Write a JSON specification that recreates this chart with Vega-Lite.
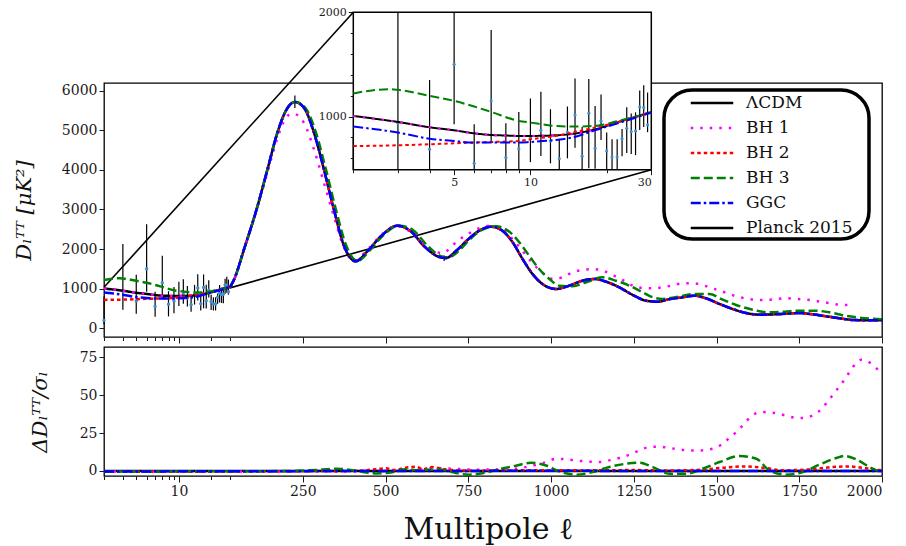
{
  "$schema": "https://vega.github.io/schema/vega-lite/v6.json",
  "background": "white",
  "padding": {"left": 12, "top": 5, "right": 10, "bottom": 8},
  "bounds": "flush",
  "spacing": 10,
  "config": {
    "font": "DejaVu Serif",
    "view": {"stroke": "#000000", "strokeWidth": 1.3},
    "axis": {"domain": false, "grid": false, "labelFont": "DejaVu Serif", "labelFontSize": 14, "labelColor": "#1a1a1a", "tickColor": "#1a1a1a", "titleFont": "DejaVu Serif", "titleFontWeight": "normal", "titleColor": "#111111"},
    "legend": {"strokeWidth": 3.5}
  },
  "datasets": {
    "curves": [
      {"model": "ΛCDM", "l": 2, "D": 1006}, {"model": "ΛCDM", "l": 2.4, "D": 981}, {"model": "ΛCDM", "l": 3, "D": 948}, {"model": "ΛCDM", "l": 4, "D": 897}, {"model": "ΛCDM", "l": 5, "D": 868}, {"model": "ΛCDM", "l": 6, "D": 839}, {"model": "ΛCDM", "l": 7, "D": 823}, {"model": "ΛCDM", "l": 8, "D": 818}, {"model": "ΛCDM", "l": 9, "D": 814}, {"model": "ΛCDM", "l": 10, "D": 814}, {"model": "ΛCDM", "l": 12.6, "D": 820}, {"model": "ΛCDM", "l": 14.6, "D": 833}, {"model": "ΛCDM", "l": 18, "D": 878}, {"model": "ΛCDM", "l": 23, "D": 958}, {"model": "ΛCDM", "l": 30, "D": 1044},
      {"model": "ΛCDM", "l": 42, "D": 1227}, {"model": "ΛCDM", "l": 72, "D": 1985}, {"model": "ΛCDM", "l": 113, "D": 3080}, {"model": "ΛCDM", "l": 143, "D": 4005}, {"model": "ΛCDM", "l": 173, "D": 4932}, {"model": "ΛCDM", "l": 198, "D": 5480}, {"model": "ΛCDM", "l": 226, "D": 5715}, {"model": "ΛCDM", "l": 254, "D": 5563}, {"model": "ΛCDM", "l": 284, "D": 4932}, {"model": "ΛCDM", "l": 314, "D": 4005}, {"model": "ΛCDM", "l": 344, "D": 2995}, {"model": "ΛCDM", "l": 375, "D": 2070}, {"model": "ΛCDM", "l": 410, "D": 1692}, {"model": "ΛCDM", "l": 445, "D": 1944}, {"model": "ΛCDM", "l": 486, "D": 2323}, {"model": "ΛCDM", "l": 536, "D": 2591}, {"model": "ΛCDM", "l": 576, "D": 2449}, {"model": "ΛCDM", "l": 617, "D": 2070}, {"model": "ΛCDM", "l": 657, "D": 1818}, {"model": "ΛCDM", "l": 682, "D": 1775}, {"model": "ΛCDM", "l": 717, "D": 1985}, {"model": "ΛCDM", "l": 750, "D": 2250}, {"model": "ΛCDM", "l": 783, "D": 2465}, {"model": "ΛCDM", "l": 818, "D": 2566}, {"model": "ΛCDM", "l": 853, "D": 2465}, {"model": "ΛCDM", "l": 884, "D": 2172}, {"model": "ΛCDM", "l": 914, "D": 1750}, {"model": "ΛCDM", "l": 944, "D": 1371}, {"model": "ΛCDM", "l": 974, "D": 1119}, {"model": "ΛCDM", "l": 1015, "D": 992}, {"model": "ΛCDM", "l": 1055, "D": 1076}, {"model": "ΛCDM", "l": 1095, "D": 1202}, {"model": "ΛCDM", "l": 1131, "D": 1245}, {"model": "ΛCDM", "l": 1166, "D": 1177}, {"model": "ΛCDM", "l": 1206, "D": 1035}, {"model": "ΛCDM", "l": 1247, "D": 841}, {"model": "ΛCDM", "l": 1287, "D": 697}, {"model": "ΛCDM", "l": 1322, "D": 672}, {"model": "ΛCDM", "l": 1357, "D": 735}, {"model": "ΛCDM", "l": 1398, "D": 783}, {"model": "ΛCDM", "l": 1433, "D": 824}, {"model": "ΛCDM", "l": 1468, "D": 757}, {"model": "ΛCDM", "l": 1509, "D": 614}, {"model": "ΛCDM", "l": 1549, "D": 487}, {"model": "ΛCDM", "l": 1589, "D": 386}, {"model": "ΛCDM", "l": 1630, "D": 344}, {"model": "ΛCDM", "l": 1670, "D": 352}, {"model": "ΛCDM", "l": 1710, "D": 369}, {"model": "ΛCDM", "l": 1750, "D": 386}, {"model": "ΛCDM", "l": 1791, "D": 352}, {"model": "ΛCDM", "l": 1831, "D": 303}, {"model": "ΛCDM", "l": 1872, "D": 252}, {"model": "ΛCDM", "l": 1912, "D": 210}, {"model": "ΛCDM", "l": 1963, "D": 202}, {"model": "ΛCDM", "l": 2000, "D": 200},

      {"model": "BH 1", "l": 2, "D": 1006}, {"model": "BH 1", "l": 2.4, "D": 981}, {"model": "BH 1", "l": 3, "D": 948}, {"model": "BH 1", "l": 4, "D": 897}, {"model": "BH 1", "l": 5, "D": 868}, {"model": "BH 1", "l": 6, "D": 839}, {"model": "BH 1", "l": 7, "D": 823}, {"model": "BH 1", "l": 8, "D": 818}, {"model": "BH 1", "l": 9, "D": 814}, {"model": "BH 1", "l": 10, "D": 814}, {"model": "BH 1", "l": 12.6, "D": 820}, {"model": "BH 1", "l": 14.6, "D": 833}, {"model": "BH 1", "l": 18, "D": 878}, {"model": "BH 1", "l": 23, "D": 958}, {"model": "BH 1", "l": 30, "D": 1044},
      {"model": "BH 1", "l": 42, "D": 1227}, {"model": "BH 1", "l": 72, "D": 1985}, {"model": "BH 1", "l": 113, "D": 3060}, {"model": "BH 1", "l": 143, "D": 3930}, {"model": "BH 1", "l": 173, "D": 4800}, {"model": "BH 1", "l": 198, "D": 5300}, {"model": "BH 1", "l": 215, "D": 5420}, {"model": "BH 1", "l": 235, "D": 5380}, {"model": "BH 1", "l": 254, "D": 5177}, {"model": "BH 1", "l": 284, "D": 4510}, {"model": "BH 1", "l": 314, "D": 3669}, {"model": "BH 1", "l": 344, "D": 2828}, {"model": "BH 1", "l": 375, "D": 2028}, {"model": "BH 1", "l": 405, "D": 1700}, {"model": "BH 1", "l": 450, "D": 2028}, {"model": "BH 1", "l": 490, "D": 2380}, {"model": "BH 1", "l": 530, "D": 2580}, {"model": "BH 1", "l": 560, "D": 2520}, {"model": "BH 1", "l": 600, "D": 2250}, {"model": "BH 1", "l": 640, "D": 1980}, {"model": "BH 1", "l": 670, "D": 1900}, {"model": "BH 1", "l": 722, "D": 2237}, {"model": "BH 1", "l": 758, "D": 2424}, {"model": "BH 1", "l": 783, "D": 2528}, {"model": "BH 1", "l": 818, "D": 2590}, {"model": "BH 1", "l": 853, "D": 2500}, {"model": "BH 1", "l": 884, "D": 2250}, {"model": "BH 1", "l": 914, "D": 1950}, {"model": "BH 1", "l": 944, "D": 1650}, {"model": "BH 1", "l": 974, "D": 1400}, {"model": "BH 1", "l": 1005, "D": 1245}, {"model": "BH 1", "l": 1035, "D": 1288}, {"model": "BH 1", "l": 1065, "D": 1414}, {"model": "BH 1", "l": 1095, "D": 1472}, {"model": "BH 1", "l": 1126, "D": 1497}, {"model": "BH 1", "l": 1156, "D": 1455}, {"model": "BH 1", "l": 1186, "D": 1346}, {"model": "BH 1", "l": 1216, "D": 1220}, {"model": "BH 1", "l": 1247, "D": 1076}, {"model": "BH 1", "l": 1277, "D": 1018}, {"model": "BH 1", "l": 1307, "D": 1010}, {"model": "BH 1", "l": 1337, "D": 1035}, {"model": "BH 1", "l": 1368, "D": 1085}, {"model": "BH 1", "l": 1400, "D": 1136}, {"model": "BH 1", "l": 1433, "D": 1136}, {"model": "BH 1", "l": 1463, "D": 1076}, {"model": "BH 1", "l": 1494, "D": 992}, {"model": "BH 1", "l": 1524, "D": 909}, {"model": "BH 1", "l": 1554, "D": 823}, {"model": "BH 1", "l": 1584, "D": 758}, {"model": "BH 1", "l": 1614, "D": 722}, {"model": "BH 1", "l": 1650, "D": 715}, {"model": "BH 1", "l": 1680, "D": 740}, {"model": "BH 1", "l": 1712, "D": 758}, {"model": "BH 1", "l": 1745, "D": 740}, {"model": "BH 1", "l": 1776, "D": 722}, {"model": "BH 1", "l": 1806, "D": 682}, {"model": "BH 1", "l": 1839, "D": 639}, {"model": "BH 1", "l": 1872, "D": 596}, {"model": "BH 1", "l": 1902, "D": 588},

      {"model": "BH 2", "l": 2, "D": 717}, {"model": "BH 2", "l": 3, "D": 724}, {"model": "BH 2", "l": 4, "D": 734}, {"model": "BH 2", "l": 5, "D": 743}, {"model": "BH 2", "l": 6, "D": 750}, {"model": "BH 2", "l": 7, "D": 756}, {"model": "BH 2", "l": 9, "D": 765}, {"model": "BH 2", "l": 10, "D": 782}, {"model": "BH 2", "l": 12.6, "D": 814}, {"model": "BH 2", "l": 14.6, "D": 846}, {"model": "BH 2", "l": 18, "D": 894}, {"model": "BH 2", "l": 23, "D": 958}, {"model": "BH 2", "l": 30, "D": 1038},
      {"model": "BH 2", "l": 42, "D": 1227}, {"model": "BH 2", "l": 72, "D": 1985}, {"model": "BH 2", "l": 113, "D": 3080}, {"model": "BH 2", "l": 143, "D": 4005}, {"model": "BH 2", "l": 173, "D": 4932}, {"model": "BH 2", "l": 198, "D": 5480}, {"model": "BH 2", "l": 226, "D": 5715}, {"model": "BH 2", "l": 254, "D": 5563}, {"model": "BH 2", "l": 284, "D": 4932}, {"model": "BH 2", "l": 314, "D": 4005}, {"model": "BH 2", "l": 344, "D": 2995}, {"model": "BH 2", "l": 375, "D": 2070}, {"model": "BH 2", "l": 410, "D": 1692}, {"model": "BH 2", "l": 445, "D": 1944}, {"model": "BH 2", "l": 486, "D": 2323}, {"model": "BH 2", "l": 536, "D": 2591}, {"model": "BH 2", "l": 576, "D": 2449}, {"model": "BH 2", "l": 617, "D": 2070}, {"model": "BH 2", "l": 657, "D": 1818}, {"model": "BH 2", "l": 682, "D": 1775}, {"model": "BH 2", "l": 717, "D": 1985}, {"model": "BH 2", "l": 750, "D": 2250}, {"model": "BH 2", "l": 783, "D": 2465}, {"model": "BH 2", "l": 818, "D": 2566}, {"model": "BH 2", "l": 853, "D": 2465}, {"model": "BH 2", "l": 884, "D": 2172}, {"model": "BH 2", "l": 914, "D": 1750}, {"model": "BH 2", "l": 944, "D": 1371}, {"model": "BH 2", "l": 974, "D": 1119}, {"model": "BH 2", "l": 1015, "D": 992}, {"model": "BH 2", "l": 1055, "D": 1076}, {"model": "BH 2", "l": 1095, "D": 1202}, {"model": "BH 2", "l": 1131, "D": 1245}, {"model": "BH 2", "l": 1166, "D": 1177}, {"model": "BH 2", "l": 1206, "D": 1035}, {"model": "BH 2", "l": 1247, "D": 841}, {"model": "BH 2", "l": 1287, "D": 697}, {"model": "BH 2", "l": 1322, "D": 672}, {"model": "BH 2", "l": 1357, "D": 735}, {"model": "BH 2", "l": 1398, "D": 783}, {"model": "BH 2", "l": 1433, "D": 824}, {"model": "BH 2", "l": 1468, "D": 757}, {"model": "BH 2", "l": 1509, "D": 614}, {"model": "BH 2", "l": 1549, "D": 487}, {"model": "BH 2", "l": 1589, "D": 386}, {"model": "BH 2", "l": 1630, "D": 344}, {"model": "BH 2", "l": 1670, "D": 352}, {"model": "BH 2", "l": 1710, "D": 369}, {"model": "BH 2", "l": 1750, "D": 386}, {"model": "BH 2", "l": 1791, "D": 352}, {"model": "BH 2", "l": 1831, "D": 303}, {"model": "BH 2", "l": 1872, "D": 252}, {"model": "BH 2", "l": 1912, "D": 210}, {"model": "BH 2", "l": 1963, "D": 202}, {"model": "BH 2", "l": 2000, "D": 200},

      {"model": "BH 3", "l": 2, "D": 1221}, {"model": "BH 3", "l": 2.4, "D": 1253}, {"model": "BH 3", "l": 2.8, "D": 1262}, {"model": "BH 3", "l": 3, "D": 1256}, {"model": "BH 3", "l": 4, "D": 1198}, {"model": "BH 3", "l": 5, "D": 1150}, {"model": "BH 3", "l": 6, "D": 1096}, {"model": "BH 3", "l": 7, "D": 1044}, {"model": "BH 3", "l": 9, "D": 958}, {"model": "BH 3", "l": 10, "D": 942}, {"model": "BH 3", "l": 12.6, "D": 910}, {"model": "BH 3", "l": 14.6, "D": 904}, {"model": "BH 3", "l": 18, "D": 910}, {"model": "BH 3", "l": 23, "D": 968}, {"model": "BH 3", "l": 30, "D": 1038},
      {"model": "BH 3", "l": 42, "D": 1227}, {"model": "BH 3", "l": 72, "D": 1985}, {"model": "BH 3", "l": 113, "D": 3080}, {"model": "BH 3", "l": 143, "D": 4005}, {"model": "BH 3", "l": 173, "D": 4932}, {"model": "BH 3", "l": 198, "D": 5480}, {"model": "BH 3", "l": 228, "D": 5715}, {"model": "BH 3", "l": 258, "D": 5563}, {"model": "BH 3", "l": 290, "D": 4932}, {"model": "BH 3", "l": 320, "D": 4005}, {"model": "BH 3", "l": 350, "D": 2995}, {"model": "BH 3", "l": 382, "D": 2070}, {"model": "BH 3", "l": 415, "D": 1700}, {"model": "BH 3", "l": 450, "D": 1944}, {"model": "BH 3", "l": 490, "D": 2323}, {"model": "BH 3", "l": 540, "D": 2591}, {"model": "BH 3", "l": 580, "D": 2500}, {"model": "BH 3", "l": 625, "D": 2100}, {"model": "BH 3", "l": 665, "D": 1830}, {"model": "BH 3", "l": 690, "D": 1790}, {"model": "BH 3", "l": 725, "D": 1985}, {"model": "BH 3", "l": 755, "D": 2250}, {"model": "BH 3", "l": 790, "D": 2480}, {"model": "BH 3", "l": 833, "D": 2576}, {"model": "BH 3", "l": 874, "D": 2439}, {"model": "BH 3", "l": 904, "D": 2172}, {"model": "BH 3", "l": 934, "D": 1833}, {"model": "BH 3", "l": 964, "D": 1497}, {"model": "BH 3", "l": 995, "D": 1245}, {"model": "BH 3", "l": 1025, "D": 1076}, {"model": "BH 3", "l": 1065, "D": 1061}, {"model": "BH 3", "l": 1106, "D": 1162}, {"model": "BH 3", "l": 1156, "D": 1288}, {"model": "BH 3", "l": 1196, "D": 1202}, {"model": "BH 3", "l": 1237, "D": 1076}, {"model": "BH 3", "l": 1277, "D": 909}, {"model": "BH 3", "l": 1307, "D": 783}, {"model": "BH 3", "l": 1337, "D": 740}, {"model": "BH 3", "l": 1380, "D": 790}, {"model": "BH 3", "l": 1433, "D": 866}, {"model": "BH 3", "l": 1478, "D": 866}, {"model": "BH 3", "l": 1519, "D": 722}, {"model": "BH 3", "l": 1559, "D": 588}, {"model": "BH 3", "l": 1609, "D": 470}, {"model": "BH 3", "l": 1655, "D": 404}, {"model": "BH 3", "l": 1705, "D": 420}, {"model": "BH 3", "l": 1750, "D": 445}, {"model": "BH 3", "l": 1796, "D": 445}, {"model": "BH 3", "l": 1841, "D": 404}, {"model": "BH 3", "l": 1887, "D": 318}, {"model": "BH 3", "l": 1932, "D": 268}, {"model": "BH 3", "l": 1983, "D": 235}, {"model": "BH 3", "l": 2000, "D": 230},

      {"model": "GGC", "l": 2, "D": 904}, {"model": "GGC", "l": 3, "D": 846}, {"model": "GGC", "l": 4, "D": 788}, {"model": "GGC", "l": 5, "D": 765}, {"model": "GGC", "l": 6, "D": 750}, {"model": "GGC", "l": 7, "D": 750}, {"model": "GGC", "l": 9, "D": 750}, {"model": "GGC", "l": 10, "D": 756}, {"model": "GGC", "l": 12.6, "D": 775}, {"model": "GGC", "l": 14.6, "D": 798}, {"model": "GGC", "l": 18, "D": 868}, {"model": "GGC", "l": 23, "D": 948}, {"model": "GGC", "l": 30, "D": 1038},
      {"model": "GGC", "l": 42, "D": 1227}, {"model": "GGC", "l": 72, "D": 1985}, {"model": "GGC", "l": 113, "D": 3080}, {"model": "GGC", "l": 143, "D": 4005}, {"model": "GGC", "l": 173, "D": 4932}, {"model": "GGC", "l": 198, "D": 5480}, {"model": "GGC", "l": 226, "D": 5715}, {"model": "GGC", "l": 254, "D": 5563}, {"model": "GGC", "l": 284, "D": 4932}, {"model": "GGC", "l": 314, "D": 4005}, {"model": "GGC", "l": 344, "D": 2995}, {"model": "GGC", "l": 375, "D": 2070}, {"model": "GGC", "l": 410, "D": 1692}, {"model": "GGC", "l": 445, "D": 1944}, {"model": "GGC", "l": 486, "D": 2323}, {"model": "GGC", "l": 536, "D": 2591}, {"model": "GGC", "l": 576, "D": 2449}, {"model": "GGC", "l": 617, "D": 2070}, {"model": "GGC", "l": 657, "D": 1818}, {"model": "GGC", "l": 682, "D": 1775}, {"model": "GGC", "l": 717, "D": 1985}, {"model": "GGC", "l": 750, "D": 2250}, {"model": "GGC", "l": 783, "D": 2465}, {"model": "GGC", "l": 818, "D": 2566}, {"model": "GGC", "l": 853, "D": 2465}, {"model": "GGC", "l": 884, "D": 2172}, {"model": "GGC", "l": 914, "D": 1750}, {"model": "GGC", "l": 944, "D": 1371}, {"model": "GGC", "l": 974, "D": 1119}, {"model": "GGC", "l": 1015, "D": 992}, {"model": "GGC", "l": 1055, "D": 1076}, {"model": "GGC", "l": 1095, "D": 1202}, {"model": "GGC", "l": 1131, "D": 1245}, {"model": "GGC", "l": 1166, "D": 1177}, {"model": "GGC", "l": 1206, "D": 1035}, {"model": "GGC", "l": 1247, "D": 841}, {"model": "GGC", "l": 1287, "D": 697}, {"model": "GGC", "l": 1322, "D": 672}, {"model": "GGC", "l": 1357, "D": 735}, {"model": "GGC", "l": 1398, "D": 783}, {"model": "GGC", "l": 1433, "D": 824}, {"model": "GGC", "l": 1468, "D": 757}, {"model": "GGC", "l": 1509, "D": 614}, {"model": "GGC", "l": 1549, "D": 487}, {"model": "GGC", "l": 1589, "D": 386}, {"model": "GGC", "l": 1630, "D": 344}, {"model": "GGC", "l": 1670, "D": 352}, {"model": "GGC", "l": 1710, "D": 369}, {"model": "GGC", "l": 1750, "D": 386}, {"model": "GGC", "l": 1791, "D": 352}, {"model": "GGC", "l": 1831, "D": 303}, {"model": "GGC", "l": 1872, "D": 252}, {"model": "GGC", "l": 1912, "D": 210}, {"model": "GGC", "l": 1963, "D": 202}, {"model": "GGC", "l": 2000, "D": 200}
    ],
    "planck": [
      {"l": 2, "D": 200, "lo": 100, "hi": 800}, {"l": 3, "D": 936, "lo": 470, "hi": 2130}, {"l": 4, "D": 686, "lo": 370, "hi": 1350}, {"l": 5, "D": 1502, "lo": 925, "hi": 2630}, {"l": 6, "D": 551, "lo": 290, "hi": 925}, {"l": 7, "D": 1150, "lo": 765, "hi": 1830}, {"l": 8, "D": 606, "lo": 300, "hi": 936}, {"l": 9, "D": 692, "lo": 380, "hi": 1044}, {"l": 10, "D": 798, "lo": 563, "hi": 1173}, {"l": 11, "D": 868, "lo": 621, "hi": 1237}, {"l": 12, "D": 765, "lo": 551, "hi": 1070}, {"l": 13, "D": 596, "lo": 420, "hi": 775}, {"l": 14, "D": 850, "lo": 599, "hi": 1096}, {"l": 15, "D": 1015, "lo": 700, "hi": 1365}, {"l": 16, "D": 620, "lo": 450, "hi": 900}, {"l": 17, "D": 1032, "lo": 503, "hi": 1359}, {"l": 18, "D": 696, "lo": 500, "hi": 1100}, {"l": 19, "D": 958, "lo": 776, "hi": 1212}, {"l": 20, "D": 670, "lo": 460, "hi": 847}, {"l": 21, "D": 612, "lo": 450, "hi": 783}, {"l": 22, "D": 612, "lo": 450, "hi": 783}, {"l": 23, "D": 786, "lo": 620, "hi": 880}, {"l": 24, "D": 888, "lo": 650, "hi": 1090}, {"l": 25, "D": 856, "lo": 640, "hi": 1030}, {"l": 26, "D": 862, "lo": 630, "hi": 1040}, {"l": 27, "D": 1093, "lo": 870, "hi": 1250}, {"l": 28, "D": 1087, "lo": 900, "hi": 1300}, {"l": 29, "D": 920, "lo": 850, "hi": 1230},
      {"l": 226, "D": 5720, "lo": 5560, "hi": 5880}, {"l": 677, "D": 1770, "lo": 1700, "hi": 1840}
    ],
    "resid": [
      {"model": "ΛCDM", "l": 2, "R": 0}, {"model": "ΛCDM", "l": 30, "R": 0}, {"model": "ΛCDM", "l": 2000, "R": 0},
      {"model": "BH 1", "l": 2, "R": -0.4}, {"model": "BH 1", "l": 30, "R": -0.3}, {"model": "BH 1", "l": 300, "R": -0.3}, {"model": "BH 1", "l": 500, "R": -0.2}, {"model": "BH 1", "l": 600, "R": 0.8}, {"model": "BH 1", "l": 642, "R": 2}, {"model": "BH 1", "l": 702, "R": 1.5}, {"model": "BH 1", "l": 763, "R": 0.9}, {"model": "BH 1", "l": 864, "R": 1}, {"model": "BH 1", "l": 924, "R": 2.6}, {"model": "BH 1", "l": 985, "R": 5.9}, {"model": "BH 1", "l": 1015, "R": 8.1}, {"model": "BH 1", "l": 1045, "R": 7.7}, {"model": "BH 1", "l": 1080, "R": 6.8}, {"model": "BH 1", "l": 1110, "R": 6.3}, {"model": "BH 1", "l": 1146, "R": 5.9}, {"model": "BH 1", "l": 1176, "R": 7}, {"model": "BH 1", "l": 1206, "R": 8.6}, {"model": "BH 1", "l": 1237, "R": 10.8}, {"model": "BH 1", "l": 1267, "R": 13.6}, {"model": "BH 1", "l": 1297, "R": 15.8}, {"model": "BH 1", "l": 1327, "R": 16}, {"model": "BH 1", "l": 1357, "R": 15.2}, {"model": "BH 1", "l": 1388, "R": 14.2}, {"model": "BH 1", "l": 1418, "R": 13.6}, {"model": "BH 1", "l": 1453, "R": 13.6}, {"model": "BH 1", "l": 1488, "R": 14.7}, {"model": "BH 1", "l": 1514, "R": 17.3}, {"model": "BH 1", "l": 1539, "R": 21.8}, {"model": "BH 1", "l": 1562, "R": 26.1}, {"model": "BH 1", "l": 1584, "R": 31.2}, {"model": "BH 1", "l": 1606, "R": 36.3}, {"model": "BH 1", "l": 1635, "R": 38.9}, {"model": "BH 1", "l": 1668, "R": 38.5}, {"model": "BH 1", "l": 1700, "R": 37.1}, {"model": "BH 1", "l": 1730, "R": 35.4}, {"model": "BH 1", "l": 1761, "R": 35}, {"model": "BH 1", "l": 1791, "R": 36.7}, {"model": "BH 1", "l": 1816, "R": 40.6}, {"model": "BH 1", "l": 1836, "R": 45.9}, {"model": "BH 1", "l": 1856, "R": 51.6}, {"model": "BH 1", "l": 1876, "R": 57.1}, {"model": "BH 1", "l": 1894, "R": 62.7}, {"model": "BH 1", "l": 1912, "R": 68.6}, {"model": "BH 1", "l": 1937, "R": 73.4}, {"model": "BH 1", "l": 1964, "R": 71.4}, {"model": "BH 1", "l": 1990, "R": 66.4}, {"model": "BH 1", "l": 2000, "R": 64.5},
      {"model": "BH 2", "l": 2, "R": -0.5}, {"model": "BH 2", "l": 10, "R": -0.5}, {"model": "BH 2", "l": 30, "R": -0.4}, {"model": "BH 2", "l": 300, "R": 0}, {"model": "BH 2", "l": 420, "R": 0.2}, {"model": "BH 2", "l": 470, "R": 1.2}, {"model": "BH 2", "l": 500, "R": 1.8}, {"model": "BH 2", "l": 530, "R": 0.6}, {"model": "BH 2", "l": 560, "R": 2.2}, {"model": "BH 2", "l": 590, "R": 2.8}, {"model": "BH 2", "l": 615, "R": 1.2}, {"model": "BH 2", "l": 640, "R": 2.6}, {"model": "BH 2", "l": 670, "R": 1.4}, {"model": "BH 2", "l": 720, "R": 0.4}, {"model": "BH 2", "l": 800, "R": 0.1}, {"model": "BH 2", "l": 900, "R": 0.4}, {"model": "BH 2", "l": 1000, "R": 0.5}, {"model": "BH 2", "l": 1100, "R": 0.4}, {"model": "BH 2", "l": 1250, "R": 0.6}, {"model": "BH 2", "l": 1350, "R": 0.3}, {"model": "BH 2", "l": 1450, "R": 0.8}, {"model": "BH 2", "l": 1530, "R": 2.4}, {"model": "BH 2", "l": 1590, "R": 3}, {"model": "BH 2", "l": 1640, "R": 2.2}, {"model": "BH 2", "l": 1700, "R": 0.5}, {"model": "BH 2", "l": 1780, "R": 1}, {"model": "BH 2", "l": 1850, "R": 2.6}, {"model": "BH 2", "l": 1900, "R": 3}, {"model": "BH 2", "l": 1950, "R": 1.8}, {"model": "BH 2", "l": 2000, "R": 0.5},
      {"model": "BH 3", "l": 2, "R": -0.3}, {"model": "BH 3", "l": 30, "R": -0.2}, {"model": "BH 3", "l": 200, "R": 0}, {"model": "BH 3", "l": 300, "R": 0.8}, {"model": "BH 3", "l": 350, "R": 1.5}, {"model": "BH 3", "l": 410, "R": 0.2}, {"model": "BH 3", "l": 470, "R": -1.6}, {"model": "BH 3", "l": 520, "R": -0.8}, {"model": "BH 3", "l": 560, "R": 1.2}, {"model": "BH 3", "l": 600, "R": 0.5}, {"model": "BH 3", "l": 662, "R": 1}, {"model": "BH 3", "l": 712, "R": -1.3}, {"model": "BH 3", "l": 752, "R": -2.4}, {"model": "BH 3", "l": 803, "R": -1}, {"model": "BH 3", "l": 853, "R": 1.7}, {"model": "BH 3", "l": 894, "R": 3.5}, {"model": "BH 3", "l": 939, "R": 5.4}, {"model": "BH 3", "l": 985, "R": 3.6}, {"model": "BH 3", "l": 1025, "R": -0.3}, {"model": "BH 3", "l": 1075, "R": -2.4}, {"model": "BH 3", "l": 1126, "R": -0.7}, {"model": "BH 3", "l": 1176, "R": 2.6}, {"model": "BH 3", "l": 1227, "R": 4.8}, {"model": "BH 3", "l": 1267, "R": 5.5}, {"model": "BH 3", "l": 1307, "R": 2.6}, {"model": "BH 3", "l": 1357, "R": -1.8}, {"model": "BH 3", "l": 1408, "R": -1.8}, {"model": "BH 3", "l": 1458, "R": 1.5}, {"model": "BH 3", "l": 1509, "R": 5.9}, {"model": "BH 3", "l": 1570, "R": 9.9}, {"model": "BH 3", "l": 1620, "R": 8.1}, {"model": "BH 3", "l": 1660, "R": 0.4}, {"model": "BH 3", "l": 1710, "R": -2.4}, {"model": "BH 3", "l": 1761, "R": -0.7}, {"model": "BH 3", "l": 1811, "R": 4.2}, {"model": "BH 3", "l": 1862, "R": 8.6}, {"model": "BH 3", "l": 1887, "R": 9.9}, {"model": "BH 3", "l": 1922, "R": 7.7}, {"model": "BH 3", "l": 1962, "R": 2.6}, {"model": "BH 3", "l": 2000, "R": -1},
      {"model": "GGC", "l": 2, "R": -0.3}, {"model": "GGC", "l": 30, "R": -0.2}, {"model": "GGC", "l": 500, "R": 0}, {"model": "GGC", "l": 1000, "R": 0.1}, {"model": "GGC", "l": 1500, "R": 0}, {"model": "GGC", "l": 2000, "R": 0}
    ]
  },
  "vconcat": [
    {
      "width": 778,
      "height": 254,
      "resolve": {"scale": {"x": "independent", "y": "independent"}},
      "layer": [
        {
          "data": {"values": [{"l": 2, "D": 1035, "l2": 424.6, "D2": 7979}]},
          "mark": {"type": "rule", "color": "#000000", "strokeWidth": 1.6},
          "encoding": {
            "x": {"field": "l", "type": "quantitative", "scale": {"type": "log", "domain": [2, 30], "range": [0, 126]}, "axis": null},
            "x2": {"field": "l2"},
            "y": {"field": "D", "type": "quantitative", "scale": {"domain": [-220, 6194], "nice": false, "zero": false}, "axis": null},
            "y2": {"field": "D2"}
          }
        },
        {
          "data": {"name": "planck"},
          "transform": [{"filter": "datum.l <= 30"}],
          "mark": {"type": "rule", "strokeWidth": 1.2, "color": "#000000"},
          "encoding": {
            "x": {"field": "l", "type": "quantitative", "scale": {"type": "log", "domain": [2, 30], "range": [0, 126]}, "axis": null},
            "y": {"field": "lo", "type": "quantitative", "scale": {"domain": [-220, 6194], "nice": false, "zero": false}, "axis": null},
            "y2": {"field": "hi"}
          }
        },
        {
          "data": {"name": "planck"},
          "transform": [{"filter": "datum.l <= 30"}],
          "mark": {"type": "point", "filled": true, "size": 12, "color": "#3d8fd1", "opacity": 1},
          "encoding": {
            "x": {"field": "l", "type": "quantitative", "scale": {"type": "log", "domain": [2, 30], "range": [0, 126]}, "axis": {"orient": "bottom", "values": [2, 3, 4, 5, 6, 7, 8, 9, 20, 30], "labels": false, "title": null, "tickSize": 3.5}},
            "y": {"field": "D", "type": "quantitative", "scale": {"domain": [-220, 6194], "nice": false, "zero": false}, "axis": null}
          }
        },
        {
          "data": {"name": "curves"},
          "transform": [{"filter": "datum.l <= 30"}],
          "mark": {"type": "line", "strokeWidth": 2.5, "interpolate": "monotone"},
          "encoding": {
            "x": {"field": "l", "type": "quantitative", "scale": {"type": "log", "domain": [2, 30], "range": [0, 126]}, "axis": {"orient": "bottom", "values": [10], "labels": false, "title": null, "tickSize": 6}},
            "y": {"field": "D", "type": "quantitative", "scale": {"domain": [-220, 6194], "nice": false, "zero": false}, "axis": {"orient": "left", "values": [0, 1000, 2000, 3000, 4000, 5000, 6000], "format": "d", "tickSize": 5, "title": "Dₗᵀᵀ  [μK²]", "titleFontSize": 21, "titleFontStyle": "italic", "titlePadding": 27}},
            "color": {"field": "model", "type": "nominal", "title": null, "scale": {"domain": ["ΛCDM", "BH 1", "BH 2", "BH 3", "GGC", "Planck 2015"], "range": ["#000000", "#ff00ff", "#ff0000", "#008000", "#0000ff", "#000000"]},
              "legend": {
                "orient": "none", "legendX": 560, "legendY": 7,
                "title": " ", "titleOrient": "right", "titlePadding": 14, "titleFontSize": 6,
                "fillColor": "white", "strokeColor": "#000000", "cornerRadius": 28, "padding": 3,
                "labelFont": "DejaVu Serif", "labelFontSize": 17, "labelColor": "#111111", "labelOffset": 24,
                "symbolType": "M-2.5,0H2.5", "symbolSize": 289, "symbolStrokeWidth": 2.5, "symbolOffset": 35, "rowPadding": 7
              }
            },
            "strokeDash": {"field": "model", "type": "nominal", "title": null, "scale": {"domain": ["ΛCDM", "BH 1", "BH 2", "BH 3", "GGC", "Planck 2015"], "range": [[1, 0], [2.5, 7], [3.5, 3], [9, 4], [10, 3, 2.5, 3], [1, 0]]}, "legend": null}
          }
        },
        {
          "data": {"values": [{"l": 30, "D": 1020, "l2": 1303, "D2": 4005}]},
          "mark": {"type": "rule", "color": "#000000", "strokeWidth": 1.6},
          "encoding": {
            "x": {"field": "l", "type": "quantitative", "scale": {"domain": [30, 2000], "range": [126, 778], "nice": false, "zero": false}, "axis": null},
            "x2": {"field": "l2"},
            "y": {"field": "D", "type": "quantitative", "scale": {"domain": [-220, 6194], "nice": false, "zero": false}, "axis": null},
            "y2": {"field": "D2"}
          }
        },
        {
          "data": {"name": "planck"},
          "transform": [{"filter": "datum.l > 30"}],
          "mark": {"type": "rule", "strokeWidth": 1.2, "color": "#000000"},
          "encoding": {
            "x": {"field": "l", "type": "quantitative", "scale": {"domain": [30, 2000], "range": [126, 778], "nice": false, "zero": false}, "axis": null},
            "y": {"field": "lo", "type": "quantitative", "scale": {"domain": [-220, 6194], "nice": false, "zero": false}, "axis": null},
            "y2": {"field": "hi"}
          }
        },
        {
          "data": {"name": "curves"},
          "transform": [{"filter": "datum.l >= 30"}],
          "mark": {"type": "line", "strokeWidth": 2.5, "interpolate": "monotone"},
          "encoding": {
            "x": {"field": "l", "type": "quantitative", "scale": {"domain": [30, 2000], "range": [126, 778], "nice": false, "zero": false}, "axis": {"orient": "bottom", "values": [250, 500, 750, 1000, 1250, 1500, 1750, 2000], "labels": false, "title": null, "tickSize": 6}},
            "y": {"field": "D", "type": "quantitative", "scale": {"domain": [-220, 6194], "nice": false, "zero": false}, "axis": null},
            "color": {"field": "model", "type": "nominal", "title": null, "scale": {"domain": ["ΛCDM", "BH 1", "BH 2", "BH 3", "GGC", "Planck 2015"], "range": ["#000000", "#ff00ff", "#ff0000", "#008000", "#0000ff", "#000000"]}, "legend": null},
            "strokeDash": {"field": "model", "type": "nominal", "title": null, "scale": {"domain": ["ΛCDM", "BH 1", "BH 2", "BH 3", "GGC", "Planck 2015"], "range": [[1, 0], [2.5, 7], [3.5, 3], [9, 4], [10, 3, 2.5, 3], [1, 0]]}, "legend": null}
          }
        },
        {
          "data": {"values": [{"l1": 2, "l2": 30, "D1": 490, "D2": 2000}]},
          "mark": {"type": "rect", "fill": "white", "stroke": "#000000", "strokeWidth": 1.5},
          "encoding": {
            "x": {"field": "l1", "type": "quantitative", "scale": {"type": "log", "domain": [2, 30], "range": [249.3, 547.3]}, "axis": null},
            "x2": {"field": "l2"},
            "y": {"field": "D1", "type": "quantitative", "scale": {"domain": [490, 2000], "range": [86.7, -70.7], "nice": false, "zero": false}, "axis": null},
            "y2": {"field": "D2"}
          }
        },
        {
          "data": {"name": "planck"},
          "transform": [{"filter": "datum.l <= 30"}],
          "mark": {"type": "rule", "strokeWidth": 1.2, "color": "#000000"},
          "encoding": {
            "x": {"field": "l", "type": "quantitative", "scale": {"type": "log", "domain": [2, 30], "range": [249.3, 547.3]}, "axis": null},
            "y": {"field": "lo", "type": "quantitative", "scale": {"domain": [490, 2000], "range": [86.7, -70.7], "nice": false, "zero": false, "clamp": true}, "axis": null},
            "y2": {"field": "hi"}
          }
        },
        {
          "data": {"name": "planck"},
          "transform": [{"filter": "datum.l <= 30 && datum.D >= 490 && datum.D <= 2000"}],
          "mark": {"type": "point", "filled": true, "size": 10, "color": "#3d8fd1", "opacity": 1},
          "encoding": {
            "x": {"field": "l", "type": "quantitative", "scale": {"type": "log", "domain": [2, 30], "range": [249.3, 547.3]}, "axis": {"orient": "bottom", "offset": -167.3, "values": [2, 3, 4, 6, 7, 8, 9, 20], "labels": false, "title": null, "tickSize": 3}},
            "y": {"field": "D", "type": "quantitative", "scale": {"domain": [490, 2000], "range": [86.7, -70.7], "nice": false, "zero": false}, "axis": {"orient": "left", "offset": -249.3, "values": [600, 800, 1200, 1400, 1600, 1800], "labels": false, "title": null, "tickSize": 3}}
          }
        },
        {
          "data": {"name": "curves"},
          "transform": [{"filter": "datum.l <= 30"}],
          "mark": {"type": "line", "strokeWidth": 2, "interpolate": "monotone"},
          "encoding": {
            "x": {"field": "l", "type": "quantitative", "scale": {"type": "log", "domain": [2, 30], "range": [249.3, 547.3]}, "axis": {"orient": "bottom", "offset": -167.3, "values": [5, 10, 30], "format": "d", "labelFontSize": 11, "labelPadding": 2, "title": null, "tickSize": 5}},
            "y": {"field": "D", "type": "quantitative", "scale": {"domain": [490, 2000], "range": [86.7, -70.7], "nice": false, "zero": false}, "axis": {"orient": "left", "offset": -249.3, "values": [1000, 2000], "format": "d", "labelFontSize": 11, "labelPadding": 2, "title": null, "tickSize": 5}},
            "color": {"field": "model", "type": "nominal", "title": null, "scale": {"domain": ["ΛCDM", "BH 1", "BH 2", "BH 3", "GGC", "Planck 2015"], "range": ["#000000", "#ff00ff", "#ff0000", "#008000", "#0000ff", "#000000"]}, "legend": null},
            "strokeDash": {"field": "model", "type": "nominal", "title": null, "scale": {"domain": ["ΛCDM", "BH 1", "BH 2", "BH 3", "GGC", "Planck 2015"], "range": [[1, 0], [2.5, 7], [3.5, 3], [9, 4], [10, 3, 2.5, 3], [1, 0]]}, "legend": null}
          }
        }
      ]
    },
    {
      "width": 778,
      "height": 129,
      "resolve": {"scale": {"x": "independent"}},
      "layer": [
        {
          "data": {"name": "resid"},
          "transform": [{"filter": "datum.l <= 30"}],
          "mark": {"type": "point", "opacity": 0, "size": 1},
          "encoding": {
            "x": {"field": "l", "type": "quantitative", "scale": {"type": "log", "domain": [2, 30], "range": [0, 126]}, "axis": {"orient": "bottom", "values": [2, 3, 4, 5, 6, 7, 8, 9, 20, 30], "labels": false, "title": null, "tickSize": 3.5}},
            "y": {"field": "R", "type": "quantitative", "scale": {"domain": [-3.3, 81.8], "nice": false, "zero": false}, "axis": {"values": [0, 25, 50, 75], "tickSize": 5, "title": "ΔDₗᵀᵀ/σₗ", "titleFontSize": 21, "titleFontStyle": "italic", "titlePadding": 29}}
          }
        },
        {
          "data": {"name": "resid"},
          "transform": [{"filter": "datum.l <= 30"}],
          "mark": {"type": "line", "strokeWidth": 2.5, "interpolate": "monotone"},
          "encoding": {
            "x": {"field": "l", "type": "quantitative", "scale": {"type": "log", "domain": [2, 30], "range": [0, 126]}, "axis": {"orient": "bottom", "values": [10], "format": "d", "title": null, "tickSize": 6}},
            "y": {"field": "R", "type": "quantitative", "scale": {"domain": [-3.3, 81.8], "nice": false, "zero": false}, "axis": {"values": [0, 25, 50, 75], "tickSize": 5, "title": "ΔDₗᵀᵀ/σₗ", "titleFontSize": 21, "titleFontStyle": "italic", "titlePadding": 29}},
            "color": {"field": "model", "type": "nominal", "title": null, "scale": {"domain": ["ΛCDM", "BH 1", "BH 2", "BH 3", "GGC", "Planck 2015"], "range": ["#000000", "#ff00ff", "#ff0000", "#008000", "#0000ff", "#000000"]}, "legend": null},
            "strokeDash": {"field": "model", "type": "nominal", "title": null, "scale": {"domain": ["ΛCDM", "BH 1", "BH 2", "BH 3", "GGC", "Planck 2015"], "range": [[1, 0], [2.5, 7], [3.5, 3], [9, 4], [10, 3, 2.5, 3], [1, 0]]}, "legend": null}
          }
        },
        {
          "data": {"name": "resid"},
          "transform": [{"filter": "datum.l >= 30"}],
          "mark": {"type": "line", "strokeWidth": 2.5, "interpolate": "monotone"},
          "encoding": {
            "x": {"field": "l", "type": "quantitative", "scale": {"domain": [30, 2000], "range": [126, 778], "nice": false, "zero": false}, "axis": {"orient": "bottom", "values": [250, 500, 750, 1000, 1250, 1500, 1750, 2000], "format": "d", "tickSize": 6, "title": "Multipole ℓ", "titleFontSize": 30, "titleX": 384, "titlePadding": 16}},
            "y": {"field": "R", "type": "quantitative", "scale": {"domain": [-3.3, 81.8], "nice": false, "zero": false}, "axis": {"values": [0, 25, 50, 75], "tickSize": 5, "title": "ΔDₗᵀᵀ/σₗ", "titleFontSize": 21, "titleFontStyle": "italic", "titlePadding": 29}},
            "color": {"field": "model", "type": "nominal", "title": null, "scale": {"domain": ["ΛCDM", "BH 1", "BH 2", "BH 3", "GGC", "Planck 2015"], "range": ["#000000", "#ff00ff", "#ff0000", "#008000", "#0000ff", "#000000"]}, "legend": null},
            "strokeDash": {"field": "model", "type": "nominal", "title": null, "scale": {"domain": ["ΛCDM", "BH 1", "BH 2", "BH 3", "GGC", "Planck 2015"], "range": [[1, 0], [2.5, 7], [3.5, 3], [9, 4], [10, 3, 2.5, 3], [1, 0]]}, "legend": null}
          }
        }
      ]
    }
  ]
}
